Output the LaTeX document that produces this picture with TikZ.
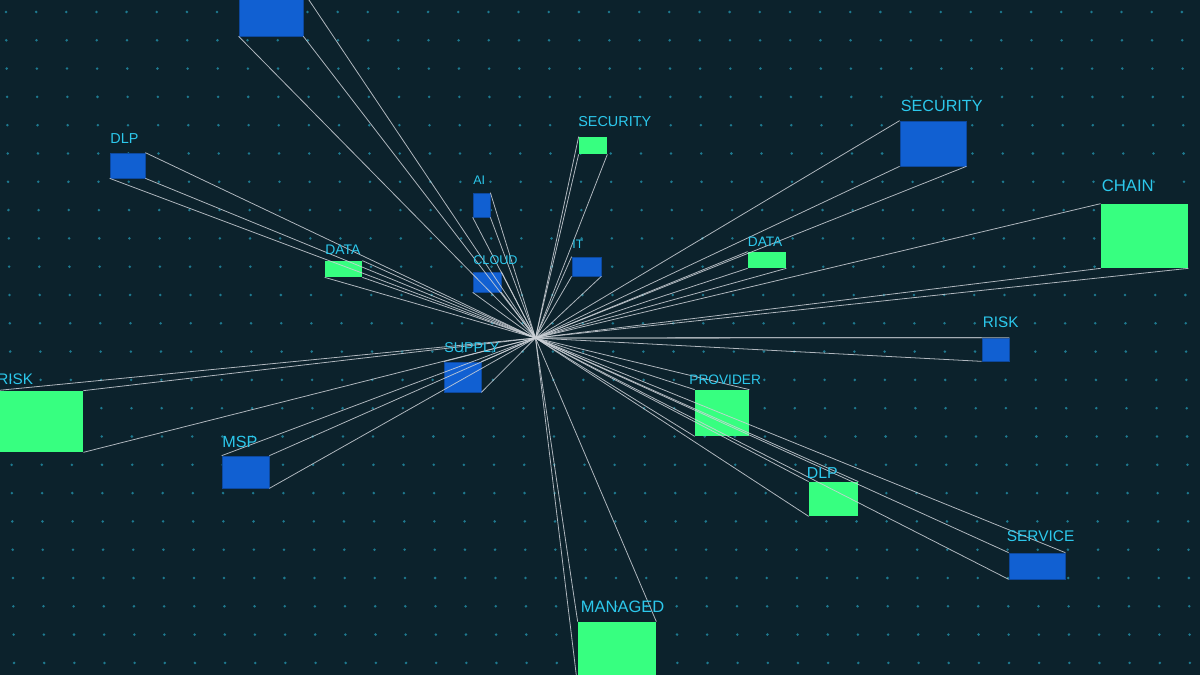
\documentclass[tikz,border=0pt]{standalone}
\usepackage{fontspec}
\setmainfont{Liberation Sans}
\usepackage{tikz}
\usetikzlibrary{fit, positioning}
\usepackage{xcolor}
\definecolor{nightbg}{RGB}{12, 34, 44}
\definecolor{gridteal}{RGB}{30, 122, 144}
\definecolor{panelblue}{RGB}{17, 96, 210}
\definecolor{panelgreen}{RGB}{55, 255, 128}
\definecolor{tagcyan}{RGB}{44, 200, 236}
\definecolor{raygrey}{RGB}{205, 210, 216}

\begin{document}
\begin{tikzpicture}[x=0.02cm, y=-0.02cm,
        bluebox/.style={fill=panelblue, draw=panelblue!75!black, line width=0.4pt, inner sep=0pt},
        greenbox/.style={fill=panelgreen, inner sep=0pt},
        lbl/.style={text=tagcyan, inner sep=0pt, anchor=base west,
                    font=\fontsize{#1}{#1}\selectfont},
        ray/.style={draw=raygrey, line width=0.45pt, opacity=0.85}
      ]
        \useasboundingbox (0,0) rectangle (1200,675);
        \fill[nightbg] (0,0) rectangle (1200,675);

        % dotted floor
        \foreach \i in {0,...,39}
          \foreach \j in {0,...,23}
            \fill[gridteal] ({6+30.15*\i+0.35*\j},{12+28.3*\j}) circle (0.028cm);

        \coordinate (hub) at (535.5,338);

        % panels
        \node[bluebox, fit={(239,-8) (303,36)}]   (topbox)   {};
        \node[bluebox, fit={(110,153) (145,178)}] (dlpA)     {};
        \node[greenbox, fit={(325,261) (362,277)}] (dataA)   {};
        \node[bluebox, fit={(473,193) (490,217)}] (ai)       {};
        \node[bluebox, fit={(473,272) (501,292)}] (cloud)    {};
        \node[greenbox, fit={(579,137) (607,154)}] (secA)    {};
        \node[bluebox, fit={(572,257) (601,276)}] (it)       {};
        \node[greenbox, fit={(748,252) (786,268)}] (dataB)   {};
        \node[bluebox, fit={(900,121) (966,166)}] (secB)     {};
        \node[greenbox, fit={(1101,204) (1188,268)}] (chain) {};
        \node[bluebox, fit={(982,338) (1009,361)}] (riskB)   {};
        \node[bluebox, fit={(444,362) (481,392)}] (supply)   {};
        \node[greenbox, fit={(695,390) (749,436)}] (provider) {};
        \node[greenbox, fit={(-4,391) (83,452)}] (riskA)     {};
        \node[bluebox, fit={(222,456) (269,488)}] (msp)      {};
        \node[greenbox, fit={(809,482) (858,516)}] (dlpB)    {};
        \node[bluebox, fit={(1009,553) (1065,579)}] (service) {};
        \node[greenbox, fit={(578,622) (656,686)}] (managed) {};

        % rays from the hub, all corners but the far one
        \foreach \b in {topbox,dlpA,dataA,ai,cloud}
          \foreach \c in {north east,south east,south west}
            \draw[ray] (hub) -- (\b.\c);
        \foreach \b in {secA,it,dataB,secB,chain}
          \foreach \c in {north west,south west,south east}
            \draw[ray] (hub) -- (\b.\c);
        \foreach \b in {riskB,provider,dlpB,service,managed}
          \foreach \c in {north west,north east,south west}
            \draw[ray] (hub) -- (\b.\c);
        \foreach \b in {supply,riskA,msp}
          \foreach \c in {north west,north east,south east}
            \draw[ray] (hub) -- (\b.\c);

        % labels
        \node[lbl=8.2pt] (dlpAt)     at (110,144)   {DLP};
        \node[lbl=7.9pt] (dataAt)    at (325,255)   {DATA};
        \node[lbl=7.1pt] (ait)       at (473,185)   {AI};
        \node[lbl=7.2pt] (cloudt)    at (473,265)   {CLOUD};
        \node[lbl=8.2pt] (secAt)     at (578,126.5) {SECURITY};
        \node[lbl=7.0pt] (itt)       at (572,249)   {IT};
        \node[lbl=7.8pt] (dataBt)    at (747.5,246.5) {DATA};
        \node[lbl=9.2pt] (secBt)     at (900.5,111.5) {SECURITY};
        \node[lbl=9.5pt] (chaint)    at (1101.5,192) {CHAIN};
        \node[lbl=8.7pt] (riskBt)    at (982.5,328) {RISK};
        \node[lbl=8.1pt] (supplyt)   at (444,353)   {SUPPLY};
        \node[lbl=7.8pt] (providert) at (689,384)   {PROVIDER};
        \node[lbl=8.7pt] (riskAt)    at (-3,384)    {RISK};
        \node[lbl=9.2pt] (mspt)      at (222,447.5) {MSP};
        \node[lbl=9.0pt] (dlpBt)     at (806.5,478) {DLP};
        \node[lbl=8.8pt] (servicet)  at (1006.5,541.5) {SERVICE};
        \node[lbl=9.4pt] (managedt)  at (580.5,612) {MANAGED};
      \end{tikzpicture}
\end{document}
